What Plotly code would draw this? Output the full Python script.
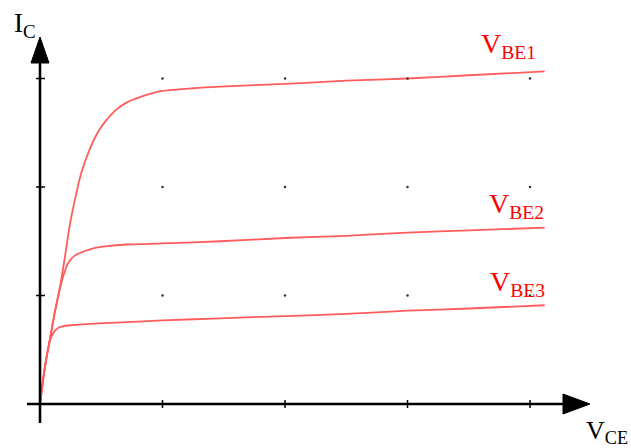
import plotly.graph_objects as go

# Collector current vs. collector-emitter voltage for three base-emitter voltages
vce_1 = [0, 0.04, 0.08, 0.12, 0.16, 0.2, 0.245, 0.3, 0.34, 0.41, 0.47, 0.53, 0.63, 0.71, 0.82, 0.92,
         1.0, 1.25, 1.47, 2.0, 2.5, 3.0, 3.5, 4.12]
ic_1 = [0, 0.34, 0.59, 0.84, 1.06, 1.33, 1.66, 1.96, 2.14, 2.36, 2.5, 2.6, 2.72, 2.78, 2.83, 2.865,
        2.885, 2.91, 2.925, 2.95, 2.98, 3.0, 3.03, 3.065]

vce_2 = [0, 0.04, 0.08, 0.12, 0.16, 0.19, 0.23, 0.286, 0.367, 0.45, 0.514, 0.71, 1.0, 1.47,
         2.0, 2.5, 3.0, 3.5, 4.12]
ic_2 = [0, 0.34, 0.59, 0.84, 1.05, 1.18, 1.3, 1.37, 1.41, 1.44, 1.45, 1.47, 1.48, 1.5,
        1.53, 1.55, 1.58, 1.6, 1.625]

vce_3 = [0, 0.04, 0.08, 0.106, 0.147, 0.2, 0.3, 0.53, 0.8, 1.0, 1.47, 2.0, 2.5, 3.0, 3.5, 4.12]
ic_3 = [0, 0.34, 0.58, 0.65, 0.7, 0.72, 0.73, 0.745, 0.76, 0.77, 0.79, 0.81, 0.83, 0.86, 0.88, 0.91]

curve_labels = ["V<sub>BE1</sub>", "V<sub>BE2</sub>", "V<sub>BE3</sub>"]
x_ticks = [1, 2, 3, 4]
y_ticks = [1, 2, 3]

W, H = 631, 448
PX_X, PX_Y = 122.5, 108.5          # pixels per unit
X0 = -40 / PX_X                     # origin 40 px from the left
Y_TOP = 404 / PX_Y                  # origin 404 px from the top
x_range = [X0, X0 + W / PX_X]
y_range = [Y_TOP - H / PX_Y, Y_TOP]

CURVE = "#ff5c5c"
LABEL = "#ff0000"
SERIF = "Liberation Serif, Times New Roman, serif"

fig = go.Figure()

for xs, ys in [(vce_1, ic_1), (vce_2, ic_2), (vce_3, ic_3)]:
    fig.add_trace(go.Scatter(x=xs, y=ys, mode="lines",
                             line=dict(color=CURVE, width=1.8, shape="spline", smoothing=0.8),
                             hoverinfo="skip", showlegend=False))

# grid dots at tick intersections
gx = [x for y in y_ticks for x in x_ticks]
gy = [y for y in y_ticks for x in x_ticks]
fig.add_trace(go.Scatter(x=gx, y=gy, mode="markers",
                         marker=dict(size=2.5, color="#333333"),
                         hoverinfo="skip", showlegend=False))

shapes = []
# axes lines
y_arrow_tip, y_arrow_base, y_arrow_half = 367 / PX_Y, 341 / PX_Y, 9 / PX_X
x_arrow_tip, x_arrow_base, x_arrow_half = 550 / PX_X, 523 / PX_X, 10 / PX_Y
shapes.append(dict(type="line", x0=0, x1=0, y0=-19 / PX_Y, y1=y_arrow_base + 0.02,
                   line=dict(color="black", width=2.6)))
shapes.append(dict(type="line", x0=-13 / PX_X, x1=x_arrow_base + 0.02, y0=0, y1=0,
                   line=dict(color="black", width=2.6)))
# arrow heads
shapes.append(dict(type="path",
                   path=f"M {-y_arrow_half} {y_arrow_base} L 0 {y_arrow_tip} L {y_arrow_half} {y_arrow_base} Z",
                   fillcolor="black", line=dict(color="black", width=1)))
shapes.append(dict(type="path",
                   path=f"M {x_arrow_base} {-x_arrow_half} L {x_arrow_tip} 0 L {x_arrow_base} {x_arrow_half} Z",
                   fillcolor="black", line=dict(color="black", width=1)))
# tick marks
for t in y_ticks:
    shapes.append(dict(type="line", x0=-4 / PX_X, x1=5 / PX_X, y0=t, y1=t,
                       line=dict(color="black", width=1.5)))
for t in x_ticks:
    shapes.append(dict(type="line", x0=t, x1=t, y0=-4 / PX_Y, y1=4 / PX_Y,
                       line=dict(color="black", width=1.5)))

annotations = []
label_pos = [(3.58, 3.30), (3.65, 1.83), (3.66, 1.11)]
for txt, (lx, ly) in zip(curve_labels, label_pos):
    annotations.append(dict(x=lx, y=ly, text=txt, showarrow=False, xanchor="left", yanchor="middle",
                            font=dict(family=SERIF, size=28, color=LABEL)))
annotations.append(dict(x=-0.23, y=3.49, text="I<sub>C</sub>", showarrow=False,
                        xanchor="left", yanchor="middle",
                        font=dict(family=SERIF, size=27, color="black")))
annotations.append(dict(x=4.44, y=-0.26, text="V<sub>CE</sub>", showarrow=False,
                        xanchor="left", yanchor="middle",
                        font=dict(family=SERIF, size=26, color="black")))

fig.update_layout(
    width=W, height=H,
    margin=dict(l=0, r=0, t=0, b=0),
    paper_bgcolor="white", plot_bgcolor="white",
    xaxis=dict(range=x_range, visible=False, fixedrange=True),
    yaxis=dict(range=y_range, visible=False, fixedrange=True),
    shapes=shapes, annotations=annotations,
)

fig.write_html("out.html")
